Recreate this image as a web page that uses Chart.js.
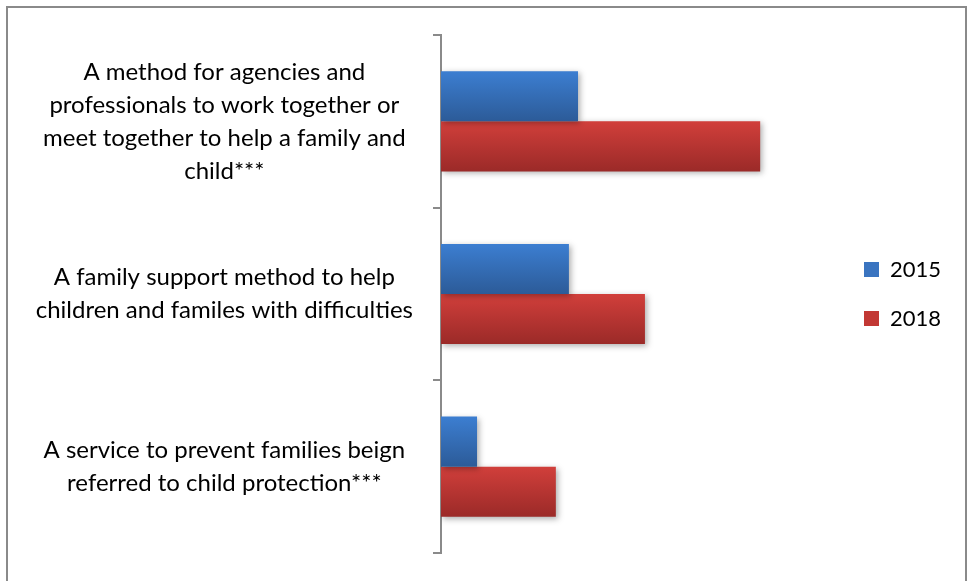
<!DOCTYPE html>
<html>
<head>
<meta charset="utf-8">
<script src="https://cdn.jsdelivr.net/npm/chart.js@4.4.1/dist/chart.umd.min.js"></script>
<style>
  html, body { margin: 0; padding: 0; background: #fff; }
  #wrap { position: relative; width: 967px; height: 581px; overflow: hidden; }
  #frame { position: absolute; left: 6px; top: 6px; width: 961px; height: 600px; border: 2px solid #8a8a8a; box-sizing: border-box; pointer-events: none; }
  canvas { position: absolute; left: 0; top: 0; }
</style>
</head>
<body>
<div id="wrap">
  <canvas id="c" width="967" height="581"></canvas>
  <div id="frame"></div>
</div>
<script>
const categories = [
  ["A method for agencies and", "professionals to work together or", "meet together to help a family and", "child***"],
  ["A family support method to help", "children and familes with difficulties"],
  ["A service to prevent families beign", "referred to child protection***"]
];
const seriesNames = ["2015", "2018"];
const values2015 = [34.6, 32.3, 9.1];
const values2018 = [80.6, 51.5, 29.0];

const FONT = "Lato, 'Open Sans', sans-serif";
const gradStops = [
  ["#3c7ed1", "#2c5b98"],
  ["#d13f3b", "#9b2a28"]
];
const legendColors = ["#3a74c0", "#c23834"];

const gradientPlugin = {
  id: 'barGradients',
  beforeDatasetsDraw(chart) {
    const ctx = chart.ctx;
    chart.data.datasets.forEach((ds, di) => {
      const meta = chart.getDatasetMeta(di);
      meta.data.forEach(el => {
        const top = el.y - el.height / 2, bot = el.y + el.height / 2;
        const g = ctx.createLinearGradient(0, top, 0, bot);
        g.addColorStop(0, gradStops[di][0]);
        g.addColorStop(1, gradStops[di][1]);
        el.options = Object.assign({}, el.options, { backgroundColor: g });
      });
    });
    ctx.save();
    ctx.shadowColor = 'rgba(0,0,0,0.32)';
    ctx.shadowBlur = 6;
    ctx.shadowOffsetX = 2;
    ctx.shadowOffsetY = 2;
  },
  afterDatasetsDraw(chart) {
    chart.ctx.restore();
  }
};

const legendWidthPlugin = {
  id: 'legendWidth',
  beforeInit(chart) {
    const lg = chart.legend;
    const orig = lg.fit;
    lg.fit = function() { orig.call(this); this.width = 130; };
  }
};

new Chart(document.getElementById('c'), {
  type: 'bar',
  data: {
    labels: categories,
    datasets: [
      { label: seriesNames[0], data: values2015, backgroundColor: (c) => legendColors[0] },
      { label: seriesNames[1], data: values2018, backgroundColor: (c) => legendColors[1] }
    ]
  },
  options: {
    indexAxis: 'y',
    responsive: false,
    animation: false,
    layout: { padding: { top: 35, bottom: 28, left: 0, right: 0 } },
    datasets: { bar: { categoryPercentage: 0.58, barPercentage: 1.0, borderWidth: 0 } },
    scales: {
      x: { display: false, min: 0, max: 100 },
      y: {
        afterFit(scale) { scale.width = 441; scale.paddingTop = 0; scale.paddingBottom = 0; },
        grid: { display: true, drawOnChartArea: false, drawTicks: true, tickLength: 8, color: '#8a8a8a', lineWidth: 2, offset: true },
        border: { display: true, color: '#8a8a8a', width: 2 },
        ticks: {
          crossAlign: 'center',
          padding: 20,
          color: '#000',
          font: { family: FONT, size: 24, lineHeight: 1.375 }
        }
      }
    },
    plugins: {
      legend: {
        position: 'right',
        labels: {
          color: '#000',
          boxWidth: 15,
          boxHeight: 15,
          padding: 27,
          font: { family: FONT, size: 22 },
          generateLabels(chart) {
            return chart.data.datasets.map((ds, i) => ({
              text: ds.label,
              fillStyle: legendColors[i],
              strokeStyle: legendColors[i],
              lineWidth: 0,
              hidden: false,
              datasetIndex: i,
              fontColor: '#000'
            }));
          }
        }
      },
      tooltip: { enabled: false }
    }
  },
  plugins: [gradientPlugin, legendWidthPlugin]
});
</script>
</body>
</html>
